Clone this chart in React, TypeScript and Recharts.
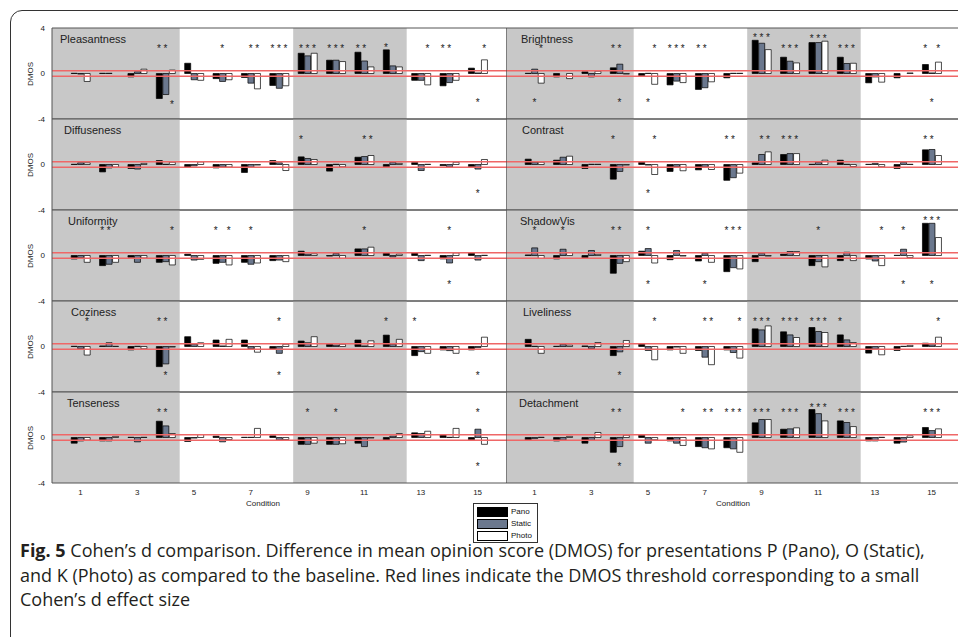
import React from 'react';
import { BarChart, Bar, XAxis, YAxis, ReferenceArea, ReferenceLine, ReferenceDot } from 'recharts';

// ---------- data ----------
const conditions = [1, 2, 3, 4, 5, 6, 7, 8, 9, 10, 11, 12, 13, 14, 15];
const conditionTicks = [1, 3, 5, 7, 9, 11, 13, 15];
const seriesKeys = ['pano', 'static', 'photo'];
const seriesNames = ['Pano', 'Static', 'Photo'];
const seriesColors = ['#000000', '#6b788e', '#ffffff'];
const shadedRanges = [[0, 4.5], [8.5, 12.5]];
const thresholds = [0.24, -0.24];
const xLabel = 'Condition';
const yLabel = 'DMOS';

const pleasantnessPano = [0.02, 0.02, -0.3, -2.2, 0.9, -0.45, -0.35, -1.05, 1.78, 1.17, 1.87, 2.08, -0.6, -1.08, 0.47];
const pleasantnessStatic = [-0.05, 0.02, 0.15, -1.85, -0.55, -0.7, -0.85, -1.3, 1.55, 1.17, 1.1, 0.67, -0.6, -0.8, 0.05];
const pleasantnessPhoto = [-0.7, 0.0, 0.38, 0.3, -0.6, -0.55, -1.35, -1.08, 1.78, 1.05, 0.58, 0.58, -1.0, -0.6, 1.2];
const pleasantnessTop = ['', '', '', '**-', '', '-*-', '-**', '***', '***', '***', '**-', '*--', '--*', '**-', '--*'];
const pleasantnessBottom = ['', '', '', '--*', '', '', '', '', '', '', '', '', '', '', '-*-'];

const brightnessPano = [0.02, -0.3, 0.15, 0.5, -0.2, -1.0, -1.4, -0.38, 2.92, 1.43, 2.72, 1.43, -0.82, -0.38, 0.79];
const brightnessStatic = [0.38, 0.0, -0.3, 0.82, 0.02, -0.67, -1.25, 0.02, 2.66, 1.08, 2.72, 0.88, -0.3, 0.0, 0.05];
const brightnessPhoto = [-0.85, -0.45, 0.2, -0.05, -0.95, -0.8, -0.73, 0.02, 2.1, 0.93, 2.84, 0.9, -0.76, 0.05, 1.0];
const brightnessTop = ['--*', '', '', '**-', '--*', '***', '**-', '', '***', '***', '***', '***', '', '', '*-*'];
const brightnessBottom = ['-*-', '', '', '-*-', '-*-', '', '', '', '', '', '', '', '', '', '-*-'];

const diffusenessPano = [0.02, -0.65, -0.35, 0.35, -0.23, -0.3, -0.7, 0.35, 0.67, -0.58, 0.64, -0.2, 0.18, -0.1, -0.18];
const diffusenessStatic = [0.15, -0.3, -0.4, 0.02, -0.12, -0.23, -0.25, 0.15, 0.53, 0.02, 0.7, 0.2, -0.53, -0.23, -0.4];
const diffusenessPhoto = [0.15, -0.23, 0.1, 0.2, 0.23, -0.23, -0.05, -0.53, 0.44, -0.2, 0.79, 0.1, 0.02, 0.2, 0.44];
const diffusenessTop = ['', '', '', '', '', '', '', '', '*--', '', '-**', '', '', '', ''];
const diffusenessBottom = ['', '', '', '', '', '', '', '', '', '', '', '', '', '', '-*-'];

const contrastPano = [0.47, 0.38, -0.35, -1.29, 0.2, -0.61, -0.47, -1.39, 0.15, 0.88, 0.02, 0.38, 0.02, -0.35, 1.29];
const contrastStatic = [0.2, 0.64, 0.02, -0.61, -0.05, -0.2, -0.23, -1.16, 0.88, 0.96, 0.2, 0.02, 0.1, 0.2, 1.32];
const contrastPhoto = [0.2, 0.73, 0.02, -0.05, -0.88, -0.55, -0.44, -0.76, 1.11, 0.96, 0.38, -0.18, -0.2, 0.02, 0.79];
const contrastTop = ['', '', '', '*--', '--*', '', '', '**-', '-**', '***', '', '', '', '', '**-'];
const contrastBottom = ['', '', '', '', '-*-', '', '', '', '', '', '', '', '', '', ''];

const uniformityPano = [-0.31, -0.89, -0.16, -0.6, 0.12, -0.69, -0.6, -0.45, 0.38, -0.05, 0.58, 0.23, 0.23, -0.3, 0.23];
const uniformityStatic = [-0.19, -0.77, -0.6, -0.54, -0.4, -0.6, -0.77, -0.4, 0.12, 0.18, 0.58, -0.12, -0.45, -0.66, -0.4];
const uniformityPhoto = [-0.6, -0.6, -0.22, -0.83, -0.34, -0.83, -0.66, -0.54, 0.15, -0.25, 0.73, 0.12, 0.02, 0.23, 0.02];
const uniformityTop = ['', '**-', '', '--*', '', '*-*', '-*-', '', '', '', '-*-', '', '', '-*-', ''];
const uniformityBottom = ['', '', '', '', '', '', '', '', '', '', '', '', '', '-*-', ''];

const shadowVisPano = [0.05, -0.3, -0.2, -1.56, 0.38, -0.37, -0.48, -1.42, -0.54, 0.12, -0.89, -0.45, -0.31, 0.02, 2.83];
const shadowVisStatic = [0.67, 0.55, 0.44, -0.69, 0.61, 0.44, 0.2, -1.07, 0.2, 0.35, -0.54, 0.29, -0.48, 0.55, 2.83];
const shadowVisPhoto = [-0.26, 0.26, 0.1, -0.54, -0.66, -0.05, -0.6, -1.18, -0.05, 0.35, -1.0, -0.45, -0.89, -0.19, 1.58];
const shadowVisTop = ['-*-', '-*-', '', '**-', '-*-', '', '', '***', '', '', '-*-', '', '--*', '-*-', '***'];
const shadowVisBottom = ['', '', '', '', '-*-', '', '-*-', '', '', '', '', '', '', '-*-', '-*-'];

const cozinessPano = [0.02, 0.05, -0.3, -1.77, 0.86, 0.57, 0.57, -0.25, 0.48, 0.2, 0.57, 1.0, -0.8, -0.3, -0.3];
const cozinessStatic = [-0.2, 0.33, 0.02, -1.53, 0.2, 0.05, -0.2, -0.6, 0.33, 0.12, 0.05, 0.2, -0.45, -0.36, -0.1];
const cozinessPhoto = [-0.75, 0.02, -0.2, -0.05, 0.33, 0.63, -0.5, 0.2, 0.86, 0.2, 0.5, 0.63, -0.6, -0.6, 0.82];
const cozinessTop = ['--*', '', '', '**-', '', '', '', '-*-', '', '', '', '*--', '*--', '', ''];
const cozinessBottom = ['', '', '', '-*-', '', '', '', '-*-', '', '', '', '', '', '', '-*-'];

const livelinessPano = [0.63, 0.02, 0.05, -0.8, 0.23, -0.3, -0.35, -0.3, 1.55, 1.29, 1.67, 1.02, -0.58, -0.35, 0.29];
const livelinessStatic = [0.02, 0.2, -0.2, -0.47, -0.35, -0.05, -0.94, -0.53, 1.46, 1.02, 1.32, 0.58, -0.23, 0.02, 0.15];
const livelinessPhoto = [-0.6, 0.12, 0.35, 0.53, -1.17, -0.6, -1.6, -1.02, 1.81, 0.79, 1.23, 0.35, -0.73, 0.1, 0.82];
const livelinessTop = ['', '', '', '', '--*', '', '-**', '--*', '***', '***', '***', '*--', '', '', '--*'];
const livelinessBottom = ['', '', '', '-*-', '', '', '', '', '', '', '', '', '', '', ''];

const tensenessPano = [-0.5, -0.3, 0.02, 1.43, -0.35, 0.12, 0.02, 0.15, -0.6, -0.6, -0.5, -0.23, 0.41, 0.26, -0.2];
const tensenessStatic = [-0.3, -0.3, -0.38, 1.02, -0.05, -0.38, 0.02, -0.23, -0.6, -0.6, -0.8, 0.12, 0.35, 0.02, 0.73];
const tensenessPhoto = [-0.23, 0.1, 0.02, 0.35, 0.26, -0.18, 0.8, -0.18, -0.5, -0.55, -0.05, 0.35, 0.55, 0.8, -0.6];
const tensenessTop = ['', '', '', '**-', '', '', '', '', '-*-', '-*-', '', '', '', '', '-*-'];
const tensenessBottom = ['', '', '', '', '', '', '', '', '', '', '', '', '', '', '-*-'];

const detachmentPano = [-0.2, -0.3, -0.5, -1.3, 0.2, -0.3, -0.8, -0.9, 1.29, 0.73, 2.46, 1.46, -0.3, -0.5, 0.88];
const detachmentStatic = [-0.1, -0.23, -0.25, -0.8, -0.5, -0.5, -0.9, -1.0, 1.58, 0.76, 2.1, 1.32, -0.3, -0.4, 0.61];
const detachmentPhoto = [0.02, 0.1, 0.44, 0.2, -0.2, -0.7, -1.0, -1.3, 1.58, 0.85, 1.46, 0.96, 0.02, 0.15, 0.76];
const detachmentTop = ['', '', '', '**-', '', '--*', '-**', '***', '***', '***', '***', '***', '', '', '***'];
const detachmentBottom = ['', '', '', '-*-', '', '', '', '', '', '', '', '', '', '', ''];

const leftPanels = [
  { title: 'Pleasantness', values: [pleasantnessPano, pleasantnessStatic, pleasantnessPhoto], top: pleasantnessTop, bottom: pleasantnessBottom },
  { title: 'Diffuseness', values: [diffusenessPano, diffusenessStatic, diffusenessPhoto], top: diffusenessTop, bottom: diffusenessBottom },
  { title: 'Uniformity', values: [uniformityPano, uniformityStatic, uniformityPhoto], top: uniformityTop, bottom: uniformityBottom },
  { title: 'Coziness', values: [cozinessPano, cozinessStatic, cozinessPhoto], top: cozinessTop, bottom: cozinessBottom },
  { title: 'Tenseness', values: [tensenessPano, tensenessStatic, tensenessPhoto], top: tensenessTop, bottom: tensenessBottom },
];
const rightPanels = [
  { title: 'Brightness', values: [brightnessPano, brightnessStatic, brightnessPhoto], top: brightnessTop, bottom: brightnessBottom },
  { title: 'Contrast', values: [contrastPano, contrastStatic, contrastPhoto], top: contrastTop, bottom: contrastBottom },
  { title: 'ShadowVis', values: [shadowVisPano, shadowVisStatic, shadowVisPhoto], top: shadowVisTop, bottom: shadowVisBottom },
  { title: 'Liveliness', values: [livelinessPano, livelinessStatic, livelinessPhoto], top: livelinessTop, bottom: livelinessBottom },
  { title: 'Detachment', values: [detachmentPano, detachmentStatic, detachmentPhoto], top: detachmentTop, bottom: detachmentBottom },
];

const captionBold = 'Fig. 5';
const captionLines = [
  ' Cohen’s d comparison. Difference in mean opinion score (DMOS) for presentations P (Pano), O (Static),',
  'and K (Photo) as compared to the baseline. Red lines indicate the DMOS threshold corresponding to a small',
  'Cohen’s d effect size',
];

// ---------- layout ----------
const FONT = 'Arial, "Liberation Sans", Helvetica, sans-serif';
const PLOT_TOP = 28;
const PLOT_H = 91;
const Y_W = 52;
const LEFT_W = 506;
const RIGHT_X = 506;
const RIGHT_W = 454;
const MT = 6;
const MB = 6;
const LABEL_H = 24;
const BAR_STEP = 6.5 / (RIGHT_W / 16);

const StarShape = (props: any) => (
  <text x={props.cx} y={props.cy + 5.5} textAnchor="middle" fontSize={10} fill="#222" fontFamily={FONT}>*</text>
);

function Panel({ p, col, row }: { p: any; col: number; row: number }) {
  const isLeft = col === 0;
  const isBottom = row === 4;
  const plotTop = PLOT_TOP + PLOT_H * row;
  const labelH = isBottom ? LABEL_H : 0;
  const yW = isLeft ? Y_W : 0;
  const width = isLeft ? LEFT_W : RIGHT_W;
  const height = MT + PLOT_H + labelH + MB;
  const left = isLeft ? 0 : RIGHT_X;
  const data = conditions.map((c, i) => ({
    cond: c,
    pano: p.values[0][i],
    static: p.values[1][i],
    photo: p.values[2][i],
  }));

  const stars: any[] = [];
  conditions.forEach((c, i) => {
    const vals = p.values.map((v: number[]) => v[i]);
    const yTop = Math.max(2.4, Math.max(...vals) + 0.38);
    const yBot = Math.min(-2.4, Math.min(...vals) - 0.35);
    [[p.top[i], yTop], [p.bottom[i], yBot]].forEach(([mask, y]: any, t) => {
      if (!mask) return;
      for (let k = 0; k < 3; k++) {
        if (mask[k] === '*') {
          stars.push(
            <ReferenceDot key={`s${i}-${t}-${k}`} xAxisId="b" x={c + (k - 1) * BAR_STEP} y={y} r={0}
              ifOverflow="visible" shape={StarShape} />
          );
        }
      }
    });
  });

  return (
    <div style={{ position: 'absolute', left, top: plotTop - MT }}>
      <BarChart width={width} height={height} data={data}
        margin={{ top: MT, right: 0, bottom: MB, left: 0 }}
        barSize={6} barGap={0.5}>
        {shadedRanges.map(([a, b], i) => (
          <ReferenceArea key={`sh${i}`} xAxisId="b" x1={a} x2={b} fill="#c8c8c8" fillOpacity={1} stroke="none" ifOverflow="visible" />
        ))}
        <XAxis xAxisId="b" dataKey="cond" type="number" domain={[0, 16]} ticks={conditionTicks}
          allowDataOverflow orientation="bottom" mirror tick={false} tickSize={3} stroke="#555" interval={0} />
        <XAxis xAxisId="t" dataKey="cond" type="number" domain={[0, 16]} ticks={conditionTicks}
          allowDataOverflow orientation="top" mirror tick={false} tickSize={3} stroke="#555" interval={0} />
        {isBottom && (
          <XAxis xAxisId="l" dataKey="cond" type="number" domain={[0, 16]} ticks={conditionTicks}
            allowDataOverflow orientation="bottom" axisLine={false} tickLine={false} tickSize={4} tickMargin={2}
            height={LABEL_H} interval={0} tick={{ fontSize: 8, fill: '#222', fontFamily: FONT }} />
        )}
        {isLeft ? (
          <YAxis type="number" domain={[-4, 4]} ticks={row === 0 ? [-4, 0, 4] : [-4, 0]} width={yW}
            allowDataOverflow tickLine={false} tickSize={0} tickMargin={7} interval={0} stroke="#555"
            tick={{ fontSize: 8, fill: '#222', fontFamily: FONT }} />
        ) : (
          <YAxis type="number" domain={[-4, 4]} ticks={[-2, 2]} allowDataOverflow mirror tick={false}
            tickSize={3} stroke="#333" interval={0} />
        )}
        {seriesKeys.map((k, i) => (
          <Bar key={k} xAxisId="b" dataKey={k} name={seriesNames[i]} fill={seriesColors[i]}
            stroke="#000" strokeWidth={0.7} isAnimationActive={false} />
        ))}
        {thresholds.map((t) => (
          <ReferenceLine key={`t${t}`} xAxisId="b" y={t} stroke="#ef6767" strokeWidth={1.4} ifOverflow="visible" />
        ))}
        {stars}
      </BarChart>
    </div>
  );
}

export default function App() {
  return (
    <div style={{ position: 'absolute', left: 0, top: 0, width: 958, height: 637, overflow: 'hidden', background: '#fff', fontFamily: FONT }}>
      <div style={{ position: 'absolute', left: 10, top: 10, width: 1000, height: 700, border: '1.5px solid #333', borderRadius: 12 }} />
      {leftPanels.map((p, r) => <Panel key={p.title} p={p} col={0} row={r} />)}
      {rightPanels.map((p, r) => <Panel key={p.title} p={p} col={1} row={r} />)}
      {[...leftPanels, ...rightPanels].map((p, i) => {
        const col = i < 5 ? 0 : 1;
        const row = i % 5;
        return (
          <div key={`title${i}`} style={{ position: 'absolute', left: col === 0 ? 60 + [0, 4, 8, 11, 7][row] : 519 + [2, 3, 1, 4, 0][row], top: PLOT_TOP + PLOT_H * row + 6, fontSize: 11, lineHeight: '11px', color: '#222', whiteSpace: 'nowrap' }}>
            {p.title}
          </div>
        );
      })}
      {[0, 1, 2, 3, 4].map((r) => (
        <div key={`dm${r}`} style={{ position: 'absolute', left: 30, top: PLOT_TOP + PLOT_H * r + PLOT_H / 2, transform: 'translate(-50%, -50%) rotate(-90deg)', fontSize: 8, color: '#222', whiteSpace: 'nowrap' }}>
          {yLabel}
        </div>
      ))}
      {[263, 733].map((x) => (
        <div key={`xl${x}`} style={{ position: 'absolute', left: x, top: 503, transform: 'translate(-50%, -50%)', fontSize: 8, color: '#222' }}>
          {xLabel}
        </div>
      ))}
      <div style={{ position: 'absolute', left: 473, top: 503, width: 63, height: 38, border: '1px solid #333', background: '#fff' }}>
        {seriesNames.map((n, i) => (
          <div key={n} style={{ position: 'absolute', left: 3, top: 3 + i * 12, height: 9, display: 'flex', alignItems: 'center' }}>
            <div style={{ width: 29, height: 8, background: seriesColors[i], border: '0.8px solid #000' }} />
            <span style={{ fontSize: 8, lineHeight: '8px', marginLeft: 3, color: '#111' }}>{n}</span>
          </div>
        ))}
      </div>
      {captionLines.map((l, i) => (
        <div key={i} style={{ position: 'absolute', left: 20, top: 541 + i * 24.5, fontFamily: '"Open Sans", sans-serif', fontSize: 18, lineHeight: '18px', color: '#231f20', whiteSpace: 'nowrap' }}>
          {i === 0 && <b>{captionBold}</b>}{l}
        </div>
      ))}
    </div>
  );
}
